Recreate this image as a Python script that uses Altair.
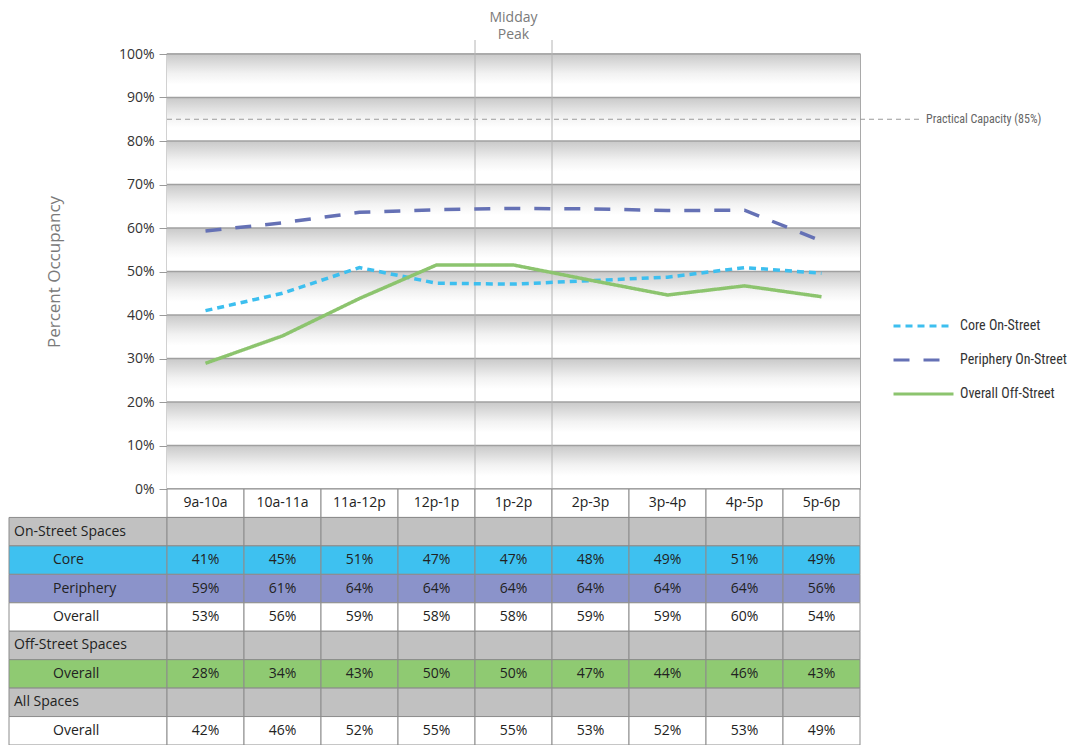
import altair as alt
import pandas as pd

# ---------------- data ----------------
times = ["9a-10a", "10a-11a", "11a-12p", "12p-1p", "1p-2p", "2p-3p", "3p-4p", "4p-5p", "5p-6p"]
series = ["Core On-Street", "Periphery On-Street", "Overall Off-Street"]

# plotted line values
core_line = [41.0, 45.0, 50.9, 47.3, 47.1, 47.9, 48.7, 50.9, 49.6]
periphery_line = [59.3, 61.2, 63.6, 64.2, 64.5, 64.4, 64.0, 64.1, 57.0]
offstreet_line = [28.9, 35.2, 43.8, 51.5, 51.5, 48.0, 44.6, 46.7, 44.2]

y_ticks = [0, 10, 20, 30, 40, 50, 60, 70, 80, 90, 100]
practical_capacity = 85
capacity_label = "Practical Capacity (85%)"
midday_index = 4
midday_label = "Midday\nPeak"

# table values
row_ids = ["hdr", "on", "core", "peri", "on_all", "off", "off_all", "all", "all_all"]
row_labels = ["", "On-Street Spaces", "Core", "Periphery", "Overall",
              "Off-Street Spaces", "Overall", "All Spaces", "Overall"]
row_kinds = ["header", "section", "sub", "sub", "sub", "section", "sub", "section", "sub"]
core_tbl = [41, 45, 51, 47, 47, 48, 49, 51, 49]
periphery_tbl = [59, 61, 64, 64, 64, 64, 64, 64, 56]
onstreet_overall_tbl = [53, 56, 59, 58, 58, 59, 59, 60, 54]
offstreet_tbl = [28, 34, 43, 50, 50, 47, 44, 46, 43]
all_tbl = [42, 46, 52, 55, 55, 53, 52, 53, 49]
row_values = {"core": core_tbl, "peri": periphery_tbl, "on_all": onstreet_overall_tbl,
              "off_all": offstreet_tbl, "all_all": all_tbl}

# ---------------- styles ----------------
FONT = "Open Sans"
NARROW = "Liberation Sans Narrow, Roboto Condensed, Liberation Sans"
line_colors = ["#3dbfef", "#6571b5", "#8cc46e"]
line_dashes = [[7, 5], [16, 14], [1, 0]]
row_fill = {"hdr": "#ffffff", "on": "#c1c1c1", "core": "#3ec1f0", "peri": "#8b93ca",
            "on_all": "#ffffff", "off": "#c1c1c1", "off_all": "#8fca72", "all": "#c1c1c1",
            "all_all": "#ffffff"}
W = 693
H_TOP = 435
H_TAB = 256
n = len(times)
LABEL_W = 158 / (W / n)   # width of the label column, in column units

# ---------------- tables built from the lists ----------------
lines_df = pd.DataFrame(
    [{"xc": i + 0.5, "value": v, "series": s}
     for s, vals in zip(series, [core_line, periphery_line, offstreet_line])
     for i, v in enumerate(vals)]
)
bands_df = pd.DataFrame({"lo": y_ticks[:-1], "hi": y_ticks[1:], "x0": 0, "x1": n})
grid_df = pd.DataFrame({"y": y_ticks, "x0": 0, "x1": n})
cap_df = pd.DataFrame({"y": [practical_capacity], "x0": [0], "x1": [n + 0.78],
                       "label": [capacity_label]})
midday_df = pd.DataFrame({"x": [midday_index, midday_index + 1]})
midtext_df = pd.DataFrame({"x": [midday_index + 0.5], "y": [100], "label": [midday_label]})

cells, texts, labels = [], [], []
for rid, lab, kind in zip(row_ids, row_labels, row_kinds):
    if kind != "header":
        cells.append({"row": rid, "x0": -LABEL_W, "x1": 0, "fill": row_fill[rid]})
        labels.append({"row": rid, "x": -LABEL_W, "label": lab, "kind": kind})
    for i, t in enumerate(times):
        cells.append({"row": rid, "x0": i, "x1": i + 1, "fill": row_fill[rid]})
        if kind == "header":
            texts.append({"row": rid, "xc": i + 0.5, "text": t})
        elif rid in row_values:
            texts.append({"row": rid, "xc": i + 0.5, "text": f"{row_values[rid][i]}%"})
cells_df = pd.DataFrame(cells)
texts_df = pd.DataFrame(texts)
labels_df = pd.DataFrame(labels)

xscale = alt.Scale(domain=[0, n], nice=False, zero=False)
yscale = alt.Scale(domain=[0, 100], nice=False, zero=False)

# ---------------- top chart ----------------
gradient = alt.LinearGradient(
    gradient="linear", x1=0, x2=0, y1=0, y2=1,
    stops=[alt.GradientStop(color="#c9c9c9", offset=0),
           alt.GradientStop(color="#f2f2f2", offset=0.45),
           alt.GradientStop(color="#ffffff", offset=0.7),
           alt.GradientStop(color="#ffffff", offset=1)])

bands = alt.Chart(bands_df).mark_rect(fill=gradient).encode(
    x=alt.X("x0:Q", scale=xscale, axis=None), x2="x1:Q",
    y=alt.Y("hi:Q", scale=yscale,
            axis=alt.Axis(values=y_ticks, labelExpr="datum.value + '%'", title="Percent Occupancy",
                          titleColor="#7a7a7a", titleFontSize=17, titleFontWeight="normal",
                          titleFont=FONT, titlePadding=55, labelFont=FONT, labelFontSize=14,
                          labelColor="#333333", labelPadding=5, tickColor="#9a9a9a", tickSize=8,
                          domainColor="#9a9a9a", grid=False)),
    y2="lo:Q",
)

grid = alt.Chart(grid_df).mark_rule(color="#a0a0a0", strokeWidth=1.4).encode(
    x=alt.X("x0:Q", scale=xscale, axis=None), x2="x1:Q", y=alt.Y("y:Q", scale=yscale))

cap_rule = alt.Chart(cap_df).mark_rule(color="#9a9a9a", strokeWidth=1.2, strokeDash=[5, 4]).encode(
    x=alt.X("x0:Q", scale=xscale, axis=None), x2="x1:Q", y=alt.Y("y:Q", scale=yscale))
cap_text = alt.Chart(cap_df).mark_text(align="left", baseline="middle", dx=6, font=NARROW,
                                       fontSize=12, color="#666666").encode(
    x=alt.X("x1:Q", scale=xscale, axis=None), y=alt.Y("y:Q", scale=yscale), text="label:N")

mid_rules = alt.Chart(midday_df).mark_rule(color="#b4b4b4", strokeWidth=1).encode(
    x=alt.X("x:Q", scale=xscale, axis=None), y=alt.datum(0), y2=alt.value(-14))
mid_text = alt.Chart(midtext_df).mark_text(align="center", baseline="bottom", dy=-29, font=FONT,
                                           fontSize=14, color="#7a7a7a", lineBreak="\n",
                                           lineHeight=17).encode(
    x=alt.X("x:Q", scale=xscale, axis=None), y=alt.Y("y:Q", scale=yscale), text="label:N")

legend = alt.Legend(title=None, orient="none", legendX=725, legendY=257, symbolType="stroke",
                    symbolSize=3600, symbolStrokeWidth=3, labelFont=NARROW, labelFontSize=14,
                    labelColor="#333333", labelOffset=5, rowPadding=4, clipHeight=30,
                    labelLimit=300)
lines = alt.Chart(lines_df).mark_line(strokeWidth=3.5).encode(
    x=alt.X("xc:Q", scale=xscale, axis=None),
    y=alt.Y("value:Q", scale=yscale),
    color=alt.Color("series:N", sort=series, scale=alt.Scale(domain=series, range=line_colors),
                    legend=legend),
    strokeDash=alt.StrokeDash("series:N", sort=series,
                              scale=alt.Scale(domain=series, range=line_dashes), legend=legend),
    detail="series:N",
)

top = alt.layer(bands, grid, cap_rule, cap_text, mid_rules, lines, mid_text).properties(
    width=W, height=H_TOP, view=alt.ViewBackground(stroke="#9a9a9a", strokeWidth=1.3))

# ---------------- table ----------------
yrow = alt.Scale(type="band", domain=row_ids, paddingInner=0, paddingOuter=0)
cell_rects = alt.Chart(cells_df).mark_rect(stroke="#8c8c8c", strokeWidth=1).encode(
    x=alt.X("x0:Q", scale=xscale, axis=None), x2="x1:Q",
    y=alt.Y("row:N", scale=yrow, axis=None, sort=row_ids),
    fill=alt.Fill("fill:N", scale=None),
)
cell_text = alt.Chart(texts_df).mark_text(font=FONT, fontSize=14, color="#222222",
                                          baseline="middle").encode(
    x=alt.X("xc:Q", scale=xscale, axis=None),
    y=alt.Y("row:N", scale=yrow, axis=None, sort=row_ids), text="text:N")
sec_text = alt.Chart(labels_df).transform_filter("datum.kind == 'section'").mark_text(
    font=FONT, fontSize=14, color="#222222", align="left", baseline="middle", dx=5).encode(
    x=alt.X("x:Q", scale=xscale, axis=None),
    y=alt.Y("row:N", scale=yrow, axis=None, sort=row_ids), text="label:N")
sub_text = alt.Chart(labels_df).transform_filter("datum.kind == 'sub'").mark_text(
    font=FONT, fontSize=14, color="#222222", align="left", baseline="middle", dx=44).encode(
    x=alt.X("x:Q", scale=xscale, axis=None),
    y=alt.Y("row:N", scale=yrow, axis=None, sort=row_ids), text="label:N")

table = alt.layer(cell_rects, cell_text, sec_text, sub_text).properties(
    width=W, height=H_TAB, view=alt.ViewBackground(stroke=None))

chart = alt.vconcat(top, table, spacing=0, bounds="flush").properties(
    padding={"left": 0, "top": 2, "right": 0, "bottom": 0}).configure_view(stroke=None)

chart.save("out.html", embed_options={"renderer": "svg", "actions": False})
